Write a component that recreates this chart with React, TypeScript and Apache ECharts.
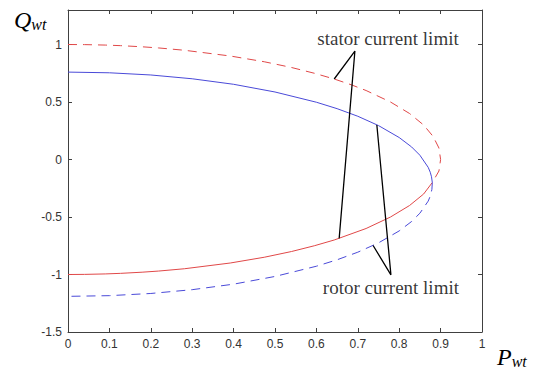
import React, { useEffect, useRef } from "react";
import * as echarts from "echarts";

// [P, Q] points
const statorUpper = [[0,1],[0.04,0.999],[0.09,0.995],[0.127,0.99],[0.179,0.98],[0.219,0.97],[0.281,0.95],[0.392,0.9],[0.474,0.85],[0.54,0.8],[0.595,0.75],[0.643,0.7],[0.684,0.65],[0.72,0.6],[0.779,0.5],[0.825,0.4],[0.859,0.3],[0.882,0.2],[0.896,0.1],[0.9,0],[0.896,-0.1],[0.88,-0.2]];
const statorLower = [[0.88,-0.2],[0.859,-0.3],[0.825,-0.4],[0.779,-0.5],[0.72,-0.6],[0.643,-0.7],[0.595,-0.75],[0.54,-0.8],[0.474,-0.85],[0.392,-0.9],[0.281,-0.95],[0.219,-0.97],[0.179,-0.98],[0.127,-0.99],[0.09,-0.995],[0.04,-0.999],[0,-1]];
const rotorUpper = [[0,0.76],[0.1,0.754],[0.2,0.735],[0.3,0.702],[0.4,0.654],[0.5,0.587],[0.6,0.498],[0.65,0.442],[0.7,0.376],[0.75,0.295],[0.8,0.191],[0.83,0.109],[0.85,0.037],[0.87,-0.068],[0.875,-0.111],[0.878,-0.15],[0.88,-0.2]];
const rotorLower = [[0.88,-0.2],[0.879,-0.26],[0.875,-0.319],[0.87,-0.362],[0.85,-0.467],[0.83,-0.539],[0.8,-0.621],[0.75,-0.725],[0.7,-0.806],[0.65,-0.872],[0.6,-0.928],[0.5,-1.017],[0.4,-1.084],[0.3,-1.132],[0.2,-1.165],[0.1,-1.184],[0,-1.19]];

// annotation pointers (data coords)
const statorPointer = [[0.643,0.7],[0.693,0.943],[0.655,-0.686]];
const rotorPointer = [[0.746,0.3],[0.78,-1.003],[0.737,-0.748]];
const statorLabelPos = [0.773, 1.05];
const rotorLabelPos = [0.78, -1.115];
const statorLabel = "stator current limit";
const rotorLabel = "rotor current limit";

const xMin = 0, xMax = 1, xStep = 0.1;
const yMin = -1.5, yMax = 1.3, yStep = 0.5;

const RED = "#e04848";
const BLUE = "#4a4ad8";
const AXIS = "#404040";

export default function App() {
  const ref = useRef<HTMLDivElement>(null);
  useEffect(() => {
    if (!ref.current) return;
    const chart = echarts.init(ref.current, null, { renderer: "svg" });
    const tickFont = { fontFamily: "Liberation Sans", fontSize: 12, color: "#333" };
    const axisCommon = {
      axisLine: { show: true, onZero: false, lineStyle: { color: AXIS, width: 1 } },
      axisTick: { show: true, inside: true, length: 4, lineStyle: { color: AXIS } },
      splitLine: { show: false },
    };
    const line = (data: number[][], color: string, dashed: boolean, width = 1) => ({
      type: "line",
      data,
      showSymbol: false,
      symbol: "none",
      lineStyle: { color, width, type: dashed ? [9, 6] : "solid" },
      silent: true,
    });
    const labelPt = (pos: number[], text: string) => ({
      type: "scatter",
      data: [pos],
      symbolSize: 0,
      silent: true,
      label: {
        show: true,
        position: "inside",
        formatter: text,
        fontFamily: "Liberation Serif",
        fontSize: 19,
        color: "#000",
      },
    });
    const axisTitle = {
      a: { fontFamily: "Liberation Serif", fontStyle: "italic", fontSize: 24, fill: "#000" },
      b: { fontFamily: "Liberation Serif", fontStyle: "italic", fontSize: 16, fill: "#000", padding: [9, 0, 0, 0] },
    };
    chart.setOption({
      animation: false,
      backgroundColor: "#fff",
      grid: { left: 68, right: 60, top: 10, bottom: 41 },
      xAxis: [
        {
          type: "value", min: xMin, max: xMax, interval: xStep, position: "bottom",
          ...axisCommon,
          axisLabel: { ...tickFont, margin: 6, formatter: (v: number) => String(Math.round(v * 10) / 10) },
        },
        {
          type: "value", min: xMin, max: xMax, interval: xStep, position: "top",
          ...axisCommon, axisLabel: { show: false },
        },
      ],
      yAxis: [
        {
          type: "value", min: yMin, max: yMax, interval: yStep, position: "left",
          ...axisCommon,
          axisLabel: {
            ...tickFont, margin: 6, showMaxLabel: false,
            formatter: (v: number) => (v > 1.05 ? "" : String(Math.round(v * 10) / 10)),
          },
        },
        {
          type: "value", min: yMin, max: yMax, interval: yStep, position: "right",
          ...axisCommon, axisLabel: { show: false },
        },
      ],
      series: [
        line(statorUpper, RED, true),
        line(statorLower, RED, false),
        line(rotorUpper, BLUE, false),
        line(rotorLower, BLUE, true),
        line(statorPointer, "#000", false, 1.3),
        line(rotorPointer, "#000", false, 1.3),
        labelPt(statorLabelPos, statorLabel),
        labelPt(rotorLabelPos, rotorLabel),
      ],
      graphic: [
        { type: "text", left: 14, top: 8, style: { text: "{a|Q}{b|wt}", rich: axisTitle } },
        { type: "text", left: 497, top: 345, style: { text: "{a|P}{b|wt}", rich: axisTitle } },
      ],
    });
    return () => chart.dispose();
  }, []);
  return <div ref={ref} style={{ position: "fixed", left: 0, top: 0, width: 542, height: 373 }} />;
}
